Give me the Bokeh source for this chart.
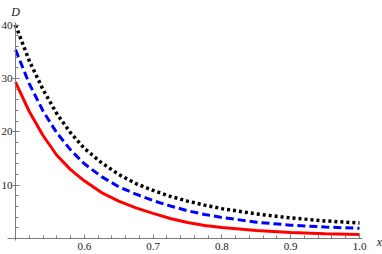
from bokeh.plotting import figure
from bokeh.models import FixedTicker, PrintfTickFormatter, Label, Range1d
from bokeh.embed import file_html
from bokeh.resources import INLINE

x_vals = [0.50, 0.52, 0.54, 0.56, 0.58, 0.60, 0.625, 0.65, 0.675, 0.70, 0.725, 0.75, 0.775, 0.80, 0.85, 0.90, 0.95, 1.00]
d_red = [29.3, 23.8, 19.3, 15.6, 12.9, 10.8, 8.6, 7.0, 5.75, 4.7, 3.75, 3.0, 2.45, 2.05, 1.5, 1.12, 0.9, 0.75]
d_blue = [35.4, 29.0, 23.9, 19.8, 16.6, 14.0, 11.6, 9.7, 8.3, 7.1, 6.1, 5.2, 4.5, 3.95, 3.05, 2.5, 2.15, 1.9]
d_black = [40.0, 33.3, 27.9, 23.4, 19.8, 16.9, 14.2, 12.0, 10.3, 9.0, 7.9, 7.0, 6.25, 5.6, 4.6, 3.85, 3.3, 2.9]

x_ticks = [0.6, 0.7, 0.8, 0.9, 1.0]
y_ticks = [10, 20, 30, 40]
x_minor = [0.5 + 0.02 * i for i in range(26)]
y_minor = [2 * i for i in range(21)]

FONT = "Liberation Serif"
AXIS_COLOR = "#7a7a7a"
LABEL_COLOR = "#222222"

p = figure(width=382, height=254, output_backend="svg", toolbar_location=None,
           x_range=Range1d(0.4782, 1.0334), y_range=Range1d(-3.0, 44.6))
p.min_border = 0
p.outline_line_color = None
p.xgrid.visible = False
p.ygrid.visible = False
p.background_fill_color = "white"
p.border_fill_color = "white"

p.xaxis.fixed_location = 0
p.yaxis.fixed_location = 0.5
p.xaxis.bounds = (0.489, 1.0045)
p.yaxis.bounds = (-0.3, 40.5)

for ax, ticks, minor, fmt in ((p.xaxis[0], x_ticks, x_minor, "%.1f"), (p.yaxis[0], y_ticks, y_minor, "%d")):
    ax.ticker = FixedTicker(ticks=ticks, minor_ticks=minor)
    ax.formatter = PrintfTickFormatter(format=fmt)
    ax.axis_line_color = AXIS_COLOR
    ax.major_tick_line_color = AXIS_COLOR
    ax.minor_tick_line_color = AXIS_COLOR
    ax.major_tick_in = 4
    ax.minor_tick_in = 3
    ax.minor_tick_out = 0
    ax.major_label_text_font = FONT
    ax.major_label_text_font_size = "11px"
    ax.major_label_text_color = LABEL_COLOR

p.xaxis.major_tick_out = 0
p.xaxis.major_label_standoff = 5
p.yaxis.major_tick_out = 3
p.yaxis.major_label_standoff = 0

p.line(x_vals, d_red, line_color="#ff0000", line_width=3)
p.line(x_vals, d_blue, line_color="#0000ff", line_width=3, line_dash="8 4")
p.line(x_vals, d_black, line_color="black", line_width=3.5, line_dash="3 3")

p.add_layout(Label(x=1.029, y=-0.7, text="x", text_font=FONT, text_font_style="italic",
                   text_font_size="12px", text_align="center", text_baseline="alphabetic",
                   text_color=LABEL_COLOR))
p.add_layout(Label(x=0.5, y=42.5, text="D", text_font=FONT, text_font_style="italic",
                   text_font_size="12px", text_align="center", text_baseline="alphabetic",
                   text_color=LABEL_COLOR))

open("out.html", "w").write(file_html(p, INLINE))
